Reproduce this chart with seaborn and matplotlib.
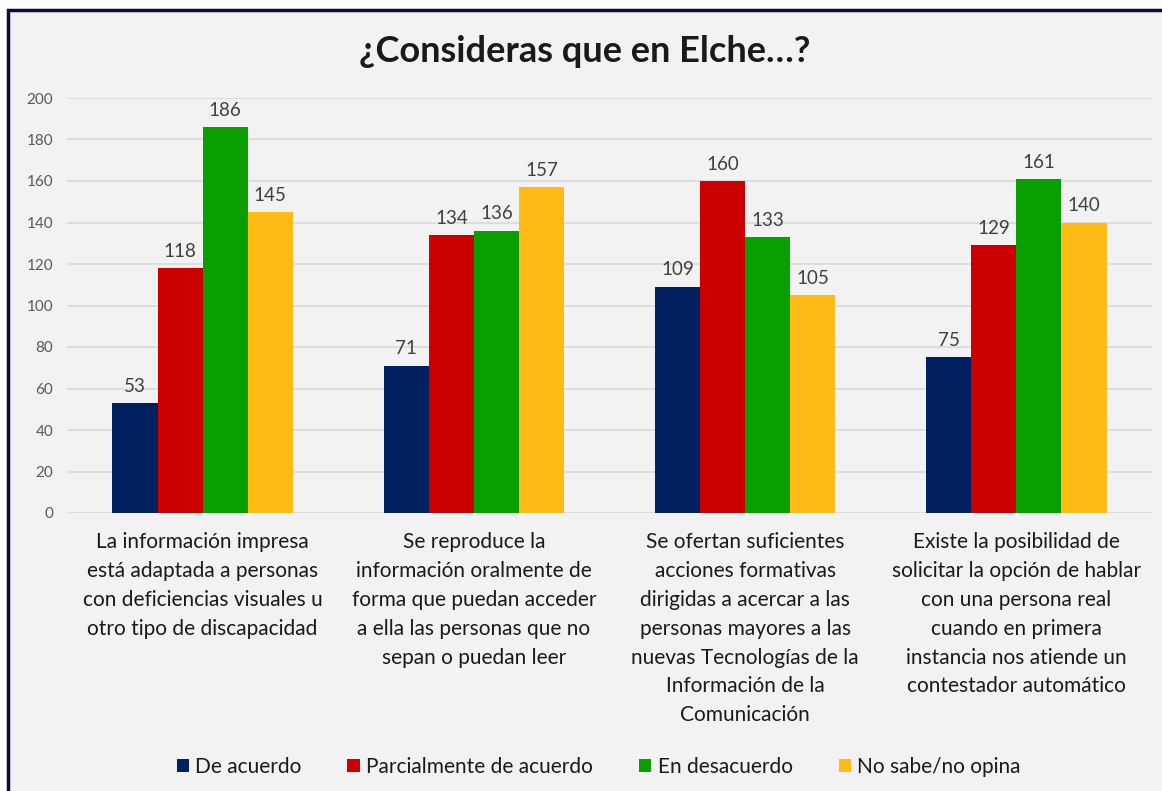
import pandas as pd
import matplotlib.pyplot as plt
import seaborn as sns
from matplotlib.patches import Rectangle

categories = ['La información impresa\nestá adaptada a personas\ncon deficiencias visuales u\notro tipo de discapacidad',
              'Se reproduce la\ninformación oralmente de\nforma que puedan acceder\na ella las personas que no\nsepan o puedan leer',
              'Se ofertan suficientes\nacciones formativas\ndirigidas a acercar a las\npersonas mayores a las\nnuevas Tecnologías de la\nInformación de la\nComunicación',
              'Existe la posibilidad de\nsolicitar la opción de hablar\ncon una persona real\ncuando en primera\ninstancia nos atiende un\ncontestador automático']
series = ['De acuerdo', 'Parcialmente de acuerdo', 'En desacuerdo', 'No sabe/no opina']
de_acuerdo = [53, 71, 109, 75]
parcialmente = [118, 134, 160, 129]
desacuerdo = [186, 136, 133, 161]
no_sabe = [145, 157, 105, 140]
colors = ['#002060', '#CC0000', '#0A9F00', '#FFBA16']

df = pd.DataFrame({'categoria': categories * 4,
                   'respuesta': [s for s in series for _ in categories],
                   'total': de_acuerdo + parcialmente + desacuerdo + no_sabe})

sns.set_theme(style='white')
plt.rcParams['font.family'] = ['Lato', 'DejaVu Sans']

fig = plt.figure(figsize=(11.62, 7.91), dpi=100, facecolor='white')
fig.patches.append(Rectangle((8 / 1162, -0.01), 1.02, 1 - 10 / 791 + 0.01,
                             transform=fig.transFigure, facecolor='#F2F2F2',
                             edgecolor='#0C0C3A', linewidth=2.5, zorder=-10))
ax = fig.add_axes([67 / 1162, 1 - 513 / 791, (1152 - 67) / 1162, (513 - 98) / 791])
ax.set_facecolor('none')

sns.barplot(data=df, x='categoria', y='total', hue='respuesta',
            palette=colors, width=0.665, saturation=1, linewidth=0,
            ax=ax, zorder=3)

for c in ax.containers:
    ax.bar_label(c, padding=6, fontsize=13.5, color='#404040')

ax.set_ylim(0, 200)
ax.set_yticks(range(0, 201, 20))
ax.grid(axis='y', color='#D9D9D9', linewidth=1.2, zorder=0)
sns.despine(ax=ax, left=True, bottom=True, right=True, top=True)
ax.tick_params(axis='y', length=0, labelsize=11, labelcolor='#595959', pad=10)
ax.tick_params(axis='x', length=0, labelsize=15, labelcolor='#1A1A1A', pad=14)
for lbl in ax.get_xticklabels():
    lbl.set_linespacing(1.55)
    lbl.set_verticalalignment('top')
ax.set_xlabel('')
ax.set_ylabel('')

fig.text(0.503, 1 - 52 / 791, '¿Consideras que en Elche…?', ha='center', va='center',
         fontsize=26, fontweight='bold', color='#1A1A1A')

ax.legend(loc='center', bbox_to_anchor=(0.49, (513 - 767) / (513 - 98)),
          ncol=4, frameon=False, fontsize=15, handlelength=0.6, handleheight=0.6,
          handletextpad=0.3, columnspacing=2.2, labelcolor='#1A1A1A')

fig.savefig('out.png', dpi=100, facecolor=fig.get_facecolor())
